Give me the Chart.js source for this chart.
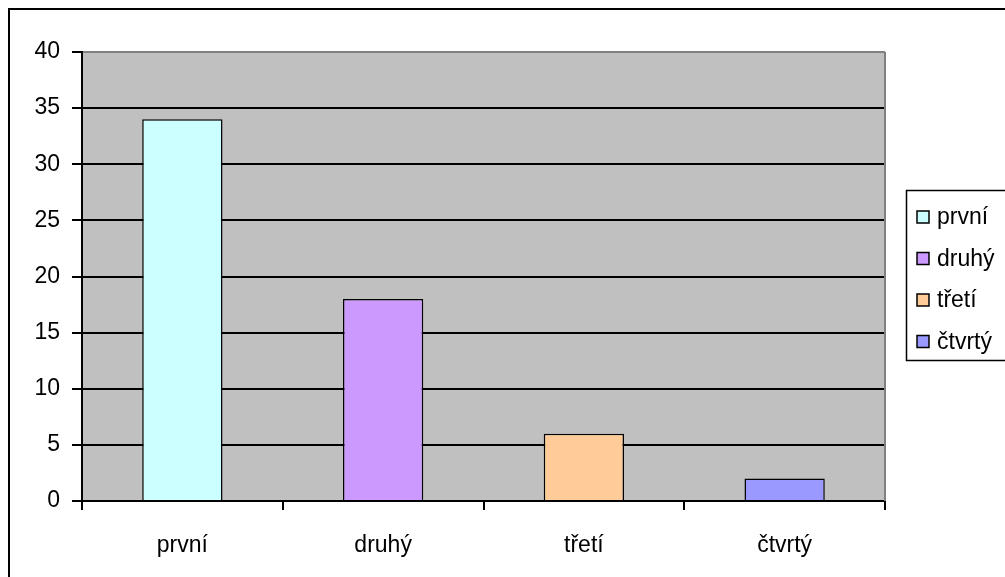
<!DOCTYPE html>
<html>
<head>
<meta charset="utf-8">
<script src="https://cdn.jsdelivr.net/npm/chart.js@4"></script>
<style>
  html, body { margin: 0; padding: 0; background: #fff; }
  #wrap { width: 1005px; height: 577px; position: relative; }
</style>
</head>
<body>
<div id="wrap"><canvas id="chart"></canvas></div>
<script>
  const categories = ['první', 'druhý', 'třetí', 'čtvrtý'];
  const values = [34, 18, 6, 2];
  const barColors = ['#CCFFFF', '#CC99FF', '#FFCC99', '#9999FF'];

  const font = { family: 'Liberation Sans, Arial, sans-serif', size: 23 };

  // plot background, outer frame and legend box
  const excelLook = {
    id: 'excelLook',
    beforeDraw(chart) {
      const { ctx, chartArea: a } = chart;
      ctx.save();
      ctx.fillStyle = '#C0C0C0';
      ctx.fillRect(a.left, a.top, a.right - a.left, a.bottom - a.top);
      ctx.restore();
    },
    afterDraw(chart) {
      const { ctx, chartArea: a } = chart;
      ctx.save();
      // right edge of plot
      ctx.strokeStyle = '#808080';
      ctx.lineWidth = 2;
      ctx.beginPath();
      ctx.moveTo(a.right, a.top);
      ctx.lineTo(a.right, a.bottom);
      ctx.stroke();
      // outer chart frame (cropped on right/bottom)
      ctx.strokeStyle = '#000';
      ctx.lineWidth = 2;
      ctx.strokeRect(9, 9, 1010, 600);
      // legend
      ctx.lineWidth = 1.5;
      ctx.strokeRect(906.5, 190.5, 110, 170);
      ctx.font = font.size + 'px ' + font.family;
      ctx.textBaseline = 'middle';
      categories.forEach((c, i) => {
        const y = 217 + i * 41.5;
        ctx.fillStyle = barColors[i];
        ctx.fillRect(917, y - 6, 12, 12);
        ctx.strokeStyle = '#000';
        ctx.lineWidth = 1.5;
        ctx.strokeRect(917, y - 6, 12, 12);
        ctx.fillStyle = '#000';
        ctx.fillText(c, 937, y + 1);
      });
      ctx.restore();
    }
  };

  new Chart(document.getElementById('chart'), {
    type: 'bar',
    data: {
      labels: categories,
      datasets: [{
        data: values,
        backgroundColor: barColors,
        borderColor: '#000',
        borderWidth: 1.5,
        barPercentage: 0.4,
        categoryPercentage: 1
      }]
    },
    options: {
      responsive: true,
      maintainAspectRatio: false,
      animation: false,
      layout: { padding: { top: 52, right: 120, bottom: 0, left: 0 } },
      plugins: { legend: { display: false }, tooltip: { enabled: false } },
      scales: {
        x: {
          offset: true,
          afterFit(scale) { scale.height = 76; },
          grid: {
            offset: true,
            drawOnChartArea: false,
            color: '#000',
            tickColor: '#000',
            tickLength: 9,
            lineWidth: 2
          },
          border: { color: '#000', width: 2 },
          ticks: { color: '#000', font: font, padding: 22 }
        },
        y: {
          min: 0,
          max: 40,
          afterFit(scale) { scale.width = 82; },
          grid: {
            color: ctx => ctx.tick && ctx.tick.value === 40 ? '#808080' : '#000',
            tickColor: '#000',
            tickLength: 10,
            lineWidth: 2
          },
          border: { color: '#000', width: 2 },
          ticks: { stepSize: 5, color: '#000', font: font, padding: 12 }
        }
      }
    },
    plugins: [excelLook]
  });
</script>
</body>
</html>
